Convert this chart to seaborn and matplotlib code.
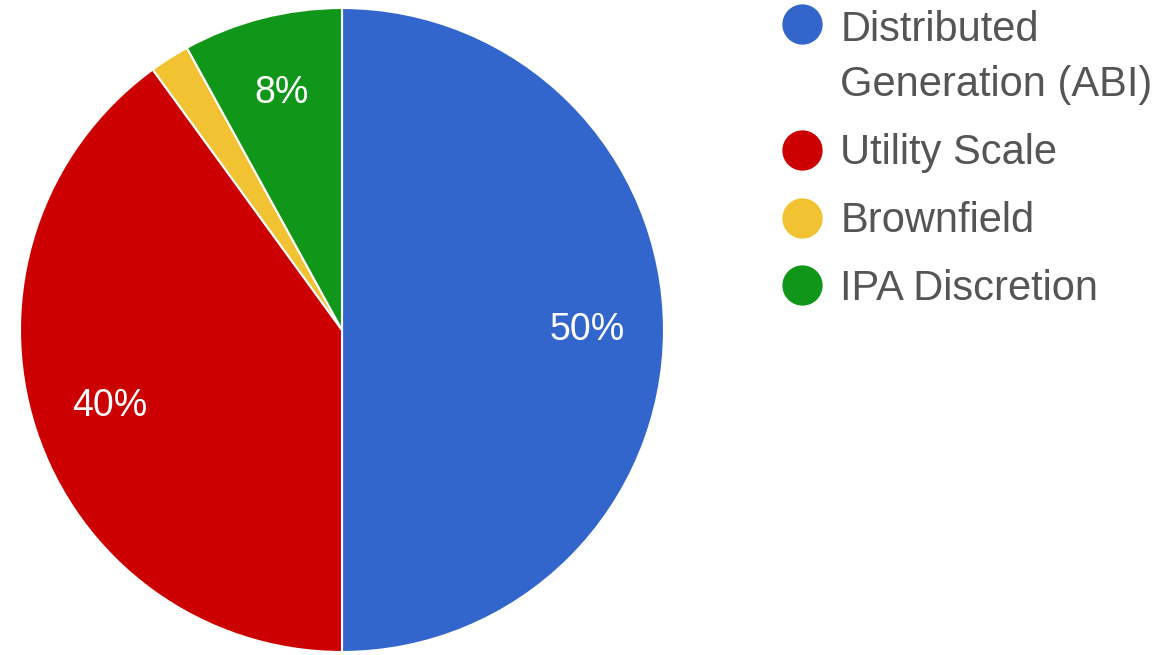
import matplotlib
matplotlib.use('Agg')
import matplotlib.pyplot as plt
import seaborn as sns
from matplotlib.lines import Line2D

sns.set_style('white')
plt.rcParams['font.family'] = ['Liberation Sans', 'DejaVu Sans']

labels = ['Distributed\nGeneration (ABI)', 'Utility Scale', 'Brownfield', 'IPA Discretion']
shares = [50, 40, 2, 8]
colors = ['#3366cc', '#cc0000', '#f1c232', '#109618']

fig = plt.figure(figsize=(11.68, 6.55), dpi=100)
# pie centred at (342, 330) px with radius 322 px
ax = fig.add_axes([20 / 1168, 3 / 655, 644 / 1168, 644 / 655])

wedges, texts, autotexts = ax.pie(
    shares, colors=colors, startangle=90, counterclock=False,
    autopct='%1.0f%%', pctdistance=0.76,
    wedgeprops=dict(edgecolor='white', linewidth=1.5),
    textprops=dict(color='white', fontsize=27))
# the 2% slice has no label in the original
autotexts[2].set_visible(False)
ax.set_xlim(-1.0, 1.0)
ax.set_ylim(-1.0, 1.0)
ax.set_aspect('equal')
ax.axis('off')

handles = [Line2D([], [], marker='o', linestyle='none', markersize=28,
                  markerfacecolor=c, markeredgecolor=c) for c in colors]
leg = fig.legend(handles, labels, loc='upper left',
                 bbox_to_anchor=(756 / 1168, 1 + 11 / 655),
                 frameon=False, fontsize=30, labelcolor='#555555',
                 handletextpad=0.32, labelspacing=0.67, borderpad=0.0,
                 handlelength=1.2)
for t in leg.get_texts():
    t.set_linespacing(1.5)

# put the marker of the two-line entry next to its first line
for row in leg._legend_handle_box.get_children()[0].get_children()[:1]:
    row.align = 'top'

fig.savefig('out.png', dpi=100)
